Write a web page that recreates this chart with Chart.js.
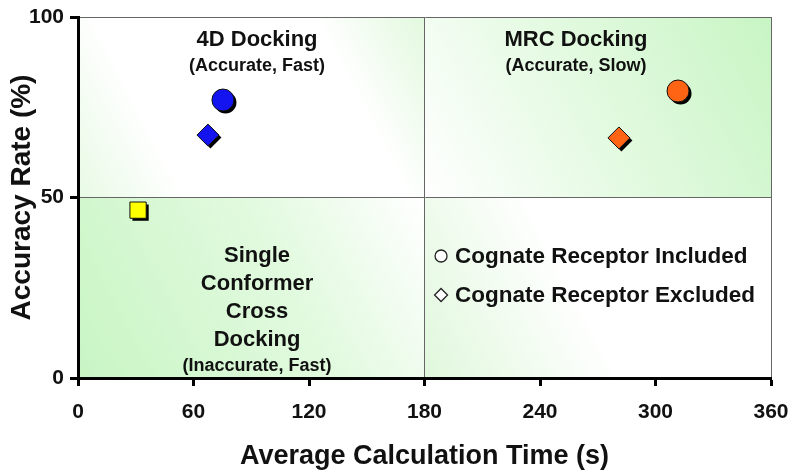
<!DOCTYPE html>
<html>
<head>
<meta charset="utf-8">
<script src="https://cdn.jsdelivr.net/npm/chart.js@4/dist/chart.umd.min.js"></script>
<style>
  body { margin: 0; background: #fff; }
  #wrap { width: 800px; height: 471px; }
</style>
</head>
<body>
<div id="wrap"><canvas id="myChart"></canvas></div>
<script>
// values
var xTicks = [0, 60, 120, 180, 240, 300, 360]
var yTicks = [0, 50, 100]

var includedTime = [75.3, 311.7]
var includedAcc = [77.0, 79.5]
var includedColors = ['#1414f0', '#ff6414']

var excludedTime = [67.5, 281]
var excludedAcc = [67.3, 66.5]
var excludedColors = ['#1414f0', '#ff6414']

var singleTime = [31.2]
var singleAcc = [46.5]
var singleColors = ['#ffff00']

// quadrant captions: [x, y, text, size]
var captions = [
	[93, 93.6, '4D Docking', 22],
	[93, 86.4, '(Accurate, Fast)', 18],
	[258.7, 93.6, 'MRC Docking', 22],
	[258.7, 86.4, '(Accurate, Slow)', 18],
	[93, 33.8, 'Single', 22],
	[93, 26.1, 'Conformer', 22],
	[93, 18.3, 'Cross', 22],
	[93, 10.5, 'Docking', 22],
	[93, 3.3, '(Inaccurate, Fast)', 18]
]

var legendItems = [
	['circle', 'Cognate Receptor Included', 33.8],
	['diamond', 'Cognate Receptor Excluded', 23.0]
]

function pts(xs, ys) {
	return xs.map(function (x, i) { return { x: x, y: ys[i] } })
}

var FONT = '"Liberation Sans", Arial, sans-serif'

// green shaded quadrants
var quadBg = {
	id: 'quadBg',
	beforeDraw: function (chart) {
		var c = chart.ctx, a = chart.chartArea
		var mx = chart.scales.x.getPixelForValue(180)
		var my = chart.scales.y.getPixelForValue(50)
		var g1 = 'rgb(200,245,196)', w = '#ffffff'
		var g
		c.save()
		// top left
		g = c.createLinearGradient(mx, a.top, a.left, my)
		g.addColorStop(0, 'rgb(226,249,222)'); g.addColorStop(0.25, w); g.addColorStop(0.75, w); g.addColorStop(1, 'rgb(232,250,229)')
		c.fillStyle = g; c.fillRect(a.left, a.top, mx - a.left, my - a.top)
		// bottom left
		g = c.createLinearGradient(a.left, a.bottom, mx, my)
		g.addColorStop(0, g1); g.addColorStop(0.6, 'rgb(226,250,223)'); g.addColorStop(1, w)
		c.fillStyle = g; c.fillRect(a.left, my, mx - a.left, a.bottom - my)
		// top right
		g = c.createLinearGradient(a.right, a.top, mx, my)
		g.addColorStop(0, g1); g.addColorStop(0.6, 'rgb(232,251,230)'); g.addColorStop(1, w)
		c.fillStyle = g; c.fillRect(mx, a.top, a.right - mx, my - a.top)
		// bottom right
		g = c.createLinearGradient(mx, a.bottom, a.right, my)
		g.addColorStop(0, 'rgb(224,248,220)'); g.addColorStop(0.45, w); g.addColorStop(1, w)
		c.fillStyle = g; c.fillRect(mx, my, a.right - mx, a.bottom - my)
		c.restore()
	}
}

// black drop shadow under each marker
var markerShadow = {
	id: 'markerShadow',
	beforeDatasetsDraw: function (chart) {
		var c = chart.ctx
		c.save()
		c.fillStyle = '#000'
		chart.data.datasets.forEach(function (ds, i) {
			chart.getDatasetMeta(i).data.forEach(function (el) {
				Chart.helpers.drawPoint(c, { pointStyle: ds.pointStyle, radius: ds.pointRadius, rotation: 0, borderWidth: 0 }, el.x + 2.5, el.y + 2.5)
			})
		})
		c.restore()
	}
}

// captions and the little legend
var labelsPlugin = {
	id: 'labelsPlugin',
	afterDraw: function (chart) {
		var c = chart.ctx, sx = chart.scales.x, sy = chart.scales.y
		c.save()
		c.fillStyle = '#111'
		c.textAlign = 'center'
		c.textBaseline = 'middle'
		captions.forEach(function (t) {
			c.font = 'bold ' + t[3] + 'px ' + FONT
			c.fillText(t[2], sx.getPixelForValue(t[0]), sy.getPixelForValue(t[1]))
		})
		var lx = sx.getPixelForValue(188.6)
		legendItems.forEach(function (it) {
			var py = sy.getPixelForValue(it[2])
			c.beginPath()
			if (it[0] === 'circle') {
				c.arc(lx, py, 6, 0, Math.PI * 2)
			} else {
				c.moveTo(lx, py - 6.5); c.lineTo(lx + 6.5, py); c.lineTo(lx, py + 6.5); c.lineTo(lx - 6.5, py); c.closePath()
			}
			c.fillStyle = '#fff'; c.fill()
			c.lineWidth = 1.3; c.strokeStyle = '#222'; c.stroke()
			c.fillStyle = '#111'
			c.textAlign = 'left'
			c.font = 'bold 22.5px ' + FONT
			c.fillText(it[1], lx + 14, py + 1)
		})
		c.restore()
	}
}

var ctx = document.getElementById('myChart').getContext('2d')
var myChart = new Chart(ctx, {
	type: 'scatter',
	data: {
		datasets: [{
			label: 'Cognate Receptor Included',
			data: pts(includedTime, includedAcc),
			pointStyle: 'circle',
			pointRadius: 11,
			backgroundColor: includedColors,
			borderColor: '#111',
			borderWidth: 1
		}, {
			label: 'Cognate Receptor Excluded',
			data: pts(excludedTime, excludedAcc),
			pointStyle: 'rectRot',
			pointRadius: 11,
			backgroundColor: excludedColors,
			borderColor: '#111',
			borderWidth: 1
		}, {
			label: 'Single Conformer',
			data: pts(singleTime, singleAcc),
			pointStyle: 'rect',
			pointRadius: 11.5,
			backgroundColor: singleColors,
			borderColor: '#111',
			borderWidth: 1
		}]
	},
	options: {
		responsive: true,
		maintainAspectRatio: false,
		animation: false,
		layout: { padding: { left: 0, right: 29, top: 17, bottom: 0 } },
		plugins: {
			legend: { display: false },
			tooltip: { enabled: false }
		},
		scales: {
			x: {
				type: 'linear',
				min: 0,
				max: 360,
				afterBuildTicks: function (s) { s.ticks = xTicks.map(function (v) { return { value: v } }) },
				afterFit: function (s) { s.height = 93; s.paddingRight = 0; s.paddingLeft = 0 },
				ticks: { color: '#111', font: { family: FONT, size: 21, weight: 'bold' }, padding: 14, maxRotation: 0 },
				grid: {
					color: function (c) { return c.tick && (c.tick.value === 180 || c.tick.value === 360) ? '#666' : 'transparent' },
					lineWidth: 1,
					tickColor: '#000',
					tickWidth: 3,
					tickLength: 8
				},
				border: { color: '#000', width: 3 },
				title: {
					display: true,
					text: 'Average Calculation Time (s)',
					color: '#111',
					font: { family: FONT, size: 27, weight: 'bold' },
					padding: { top: 10, bottom: -2 }
				}
			},
			y: {
				type: 'linear',
				min: 0,
				max: 100,
				afterBuildTicks: function (s) { s.ticks = yTicks.map(function (v) { return { value: v } }) },
				afterFit: function (s) { s.width = 78; s.paddingTop = 0; s.paddingBottom = 0 },
				ticks: { color: '#111', font: { family: FONT, size: 21, weight: 'bold' }, padding: 6 },
				grid: {
					color: function (c) { return c.tick && (c.tick.value === 50 || c.tick.value === 100) ? '#666' : 'transparent' },
					lineWidth: 1,
					tickColor: '#000',
					tickWidth: 3,
					tickLength: 8
				},
				border: { color: '#000', width: 3 },
				title: {
					display: true,
					text: 'Accuracy Rate (%)',
					color: '#111',
					font: { family: FONT, size: 28, weight: 'bold' },
					padding: { top: 5, bottom: 0 }
				}
			}
		}
	},
	plugins: [quadBg, markerShadow, labelsPlugin]
})
</script>
</body>
</html>
